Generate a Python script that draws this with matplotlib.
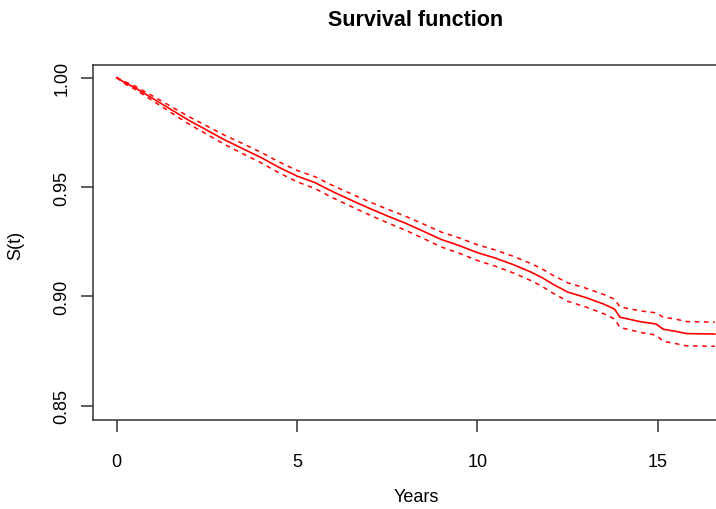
import matplotlib
matplotlib.use("Agg")
import matplotlib.pyplot as plt

plt.rcParams['font.family'] = ['Liberation Sans', 'DejaVu Sans']

# Kaplan-Meier estimate with 95% confidence limits
years = [0.0, 0.25, 0.5, 0.75, 1.0, 1.5, 2.0, 2.5, 3.0, 3.5, 4.0, 4.5, 5.0,
         5.5, 6.0, 6.5, 7.0, 7.5, 8.0, 8.5, 9.0, 9.5, 10.0, 10.5, 11.0, 11.5,
         11.8, 12.1, 12.5, 13.0, 13.5, 13.8, 13.95, 14.5, 14.95, 15.15, 15.5,
         15.8, 16.58]
surv = [1.0000, 0.9975, 0.9955, 0.9930, 0.9905, 0.9855, 0.9805, 0.9760,
        0.9715, 0.9675, 0.9635, 0.9590, 0.9550, 0.9520, 0.9478, 0.9440,
        0.9403, 0.9368, 0.9335, 0.9298, 0.9260, 0.9232, 0.9200, 0.9175,
        0.9145, 0.9110, 0.9085, 0.9055, 0.9020, 0.8995, 0.8965, 0.8942,
        0.8905, 0.8885, 0.8874, 0.8850, 0.8840, 0.8830, 0.8828]
upper = [1.0000, 0.9980, 0.9962, 0.9939, 0.9916, 0.9869, 0.9822, 0.9779,
         0.9736, 0.9698, 0.9659, 0.9615, 0.9576, 0.9547, 0.9506, 0.9469,
         0.9433, 0.9399, 0.9367, 0.9331, 0.9294, 0.9267, 0.9236, 0.9212,
         0.9183, 0.9149, 0.9125, 0.9096, 0.9062, 0.9038, 0.9009, 0.8987,
         0.8952, 0.8934, 0.8925, 0.8905, 0.8896, 0.8885, 0.8882]
lower = [1.0000, 0.9970, 0.9948, 0.9921, 0.9894, 0.9841, 0.9788, 0.9741,
         0.9694, 0.9652, 0.9611, 0.9565, 0.9524, 0.9493, 0.9450, 0.9411,
         0.9373, 0.9337, 0.9303, 0.9265, 0.9226, 0.9197, 0.9164, 0.9138,
         0.9107, 0.9071, 0.9045, 0.9014, 0.8978, 0.8952, 0.8921, 0.8897,
         0.8858, 0.8836, 0.8823, 0.8795, 0.8784, 0.8774, 0.8772]

xticks = [0, 5, 10, 15]
yticks = [0.85, 0.90, 0.95, 1.00]
ytick_labels = ['0.85', '0.90', '0.95', '1.00']

W, H = 716, 510
fig = plt.figure(figsize=(W / 100, H / 100), dpi=100)
left, right, top, bottom = 93.3, 739.0, 66.0, 421.0
ax = fig.add_axes([left / W, 1 - bottom / H, (right - left) / W, (bottom - top) / H])

ax.plot(years, surv, color='#ff0000', lw=1.2, solid_joinstyle='round')
ax.plot(years, upper, color='#ff0000', lw=1.1, dashes=(3, 3))
ax.plot(years, lower, color='#ff0000', lw=1.1, dashes=(3, 3))

ax.set_xlim(-0.649, 17.25)
ax.set_ylim(0.8435, 1.0058)

ax.set_xticks(xticks)
ax.set_xticklabels([str(v) for v in xticks])
ax.set_yticks(yticks)
ax.set_yticklabels(ytick_labels, rotation=90, va='center')

for s in ax.spines.values():
    s.set_color('#333333')
    s.set_linewidth(1.1)
ax.tick_params(axis='both', direction='out', length=8.5, width=1.1,
               color='#333333', labelsize=13, labelcolor='black')
ax.tick_params(axis='x', pad=15)
ax.tick_params(axis='y', pad=8)

fig.text(416 / W, 1 - 20 / H, 'Survival function', ha='center', va='center',
         fontsize=15.5, fontweight='bold')
fig.text(416 / W, 1 - 498 / H, 'Years', ha='center', va='center', fontsize=13)
fig.text(16 / W, 1 - 245 / H, 'S(t)', ha='center', va='center', rotation=90,
         fontsize=13)

fig.savefig('out.png', dpi=100)
